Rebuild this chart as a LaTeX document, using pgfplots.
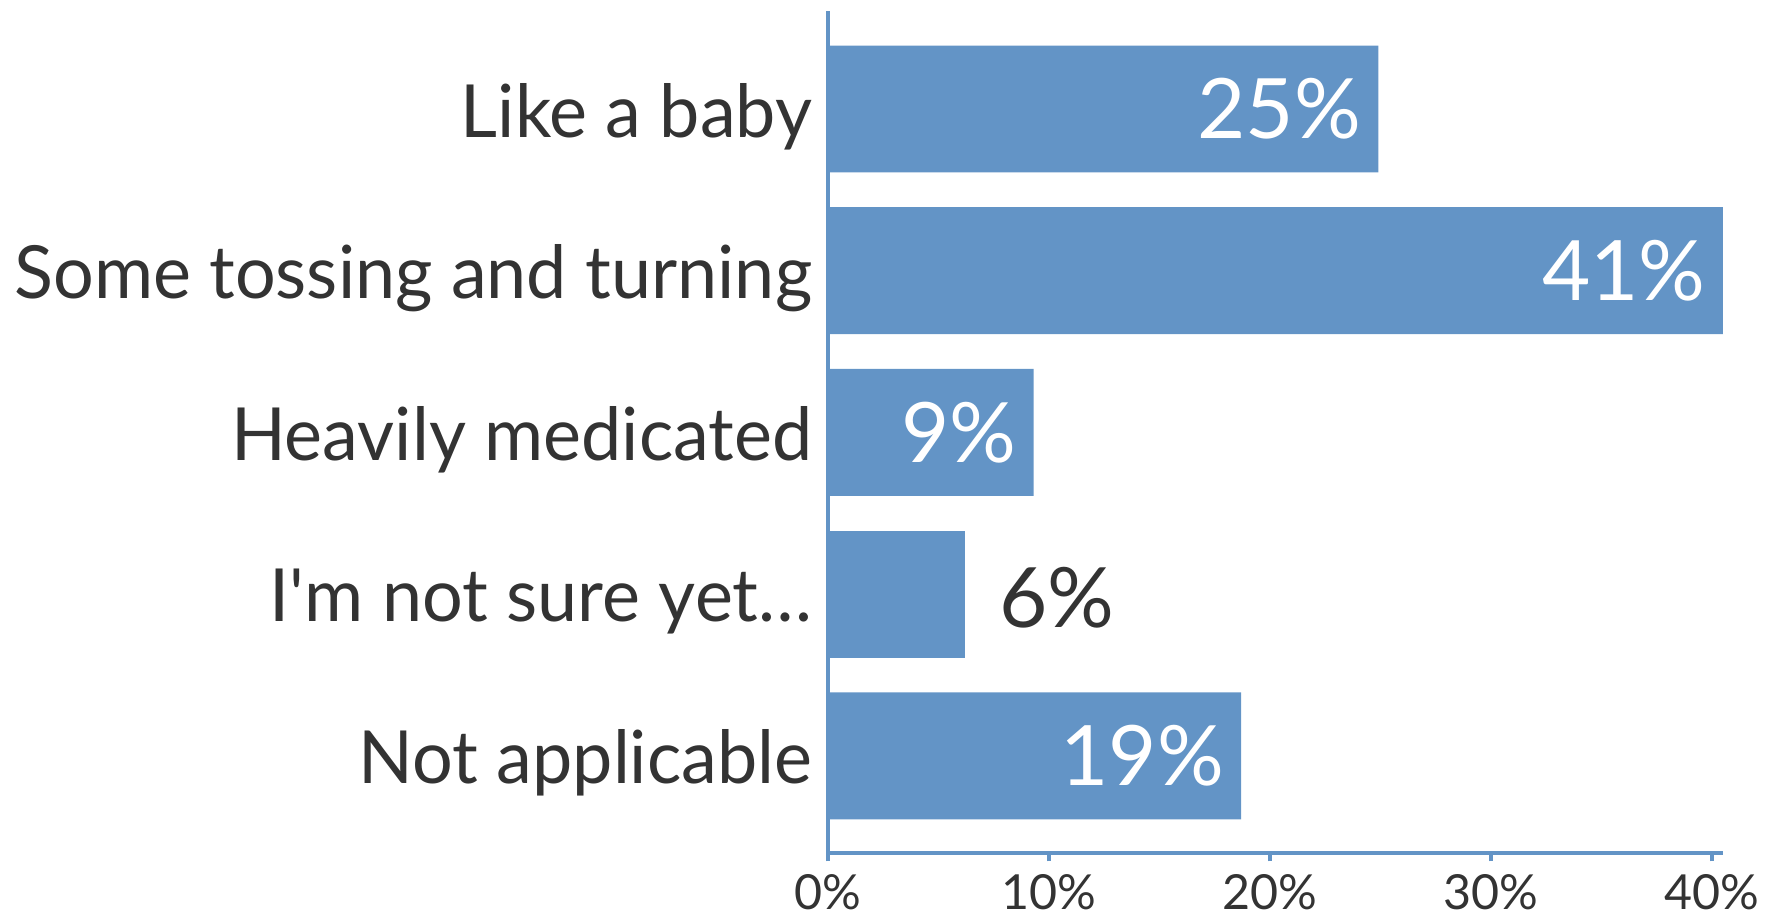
\documentclass[border=0pt]{standalone}
\usepackage{pgfplots}
\pgfplotsset{compat=1.18}
\usepackage{fontspec}
\setmainfont{Lato}
\newfontfamily\catfont{Lato}[FakeStretch=0.98]
\definecolor{barblue}{HTML}{6394C6}
\definecolor{txt}{HTML}{333333}
\begin{document}
\begin{tikzpicture}
\begin{axis}[
  scale only axis, width=268.5pt, height=252.6pt,
  xmin=0, xmax=40.5, ymin=-0.6, ymax=4.606,
  axis x line*=bottom, axis y line*=left,
  axis line style={barblue, line width=1pt, -},
  xtick={0,10,20,30,40}, xticklabels={0\%,10\%,20\%,30\%,40\%},
  tick align=outside, major tick length=2.5pt,
  xtick style={barblue, line width=1pt},
  x tick label style={font=\fontsize{14.5}{17}\selectfont, text=txt, yshift=-0.5pt},
  ytick={0,1,2,3,4},
  yticklabels={Not applicable, I\textquotesingle m not sure yet…, Heavily medicated, Some tossing and turning, Like a baby},
  ytick style={draw=none},
  y tick label style={font=\catfont\fontsize{22}{26}\selectfont, text=txt, anchor=east, inner sep=0pt, xshift=-2pt, yshift=-2.2pt},
]
\addplot[xbar, bar width=0.785, bar shift=0pt, fill=barblue, draw=none,
  nodes near coords, point meta=explicit symbolic,
  nodes near coords style={anchor=east, text=white, font=\fontsize{25}{29}\selectfont, inner sep=0pt, xshift=-5pt}]
  table[x=x, y=y, meta=label] {
  y x label
  4 24.9 {25\%}
  3 40.5 {41\%}
  2 9.3 {9\%}
  0 18.7 {19\%}
  };
\addplot[xbar, bar width=0.785, bar shift=0pt, fill=barblue, draw=none,
  nodes near coords, point meta=explicit symbolic,
  nodes near coords style={anchor=west, text=txt, font=\fontsize{25}{29}\selectfont, inner sep=0pt, xshift=10pt, yshift=-1pt}]
  table[x=x, y=y, meta=label] {
  y x label
  1 6.2 {6\%}
  };
\coordinate (bl) at (rel axis cs:0,0);
\coordinate (tr) at (rel axis cs:1,1);
\end{axis}
\pgfresetboundingbox
\path[use as bounding box] ([xshift=-248.4pt,yshift=-19.2pt]bl) rectangle ([xshift=16.2pt,yshift=3.3pt]tr);
\end{tikzpicture}
\end{document}
